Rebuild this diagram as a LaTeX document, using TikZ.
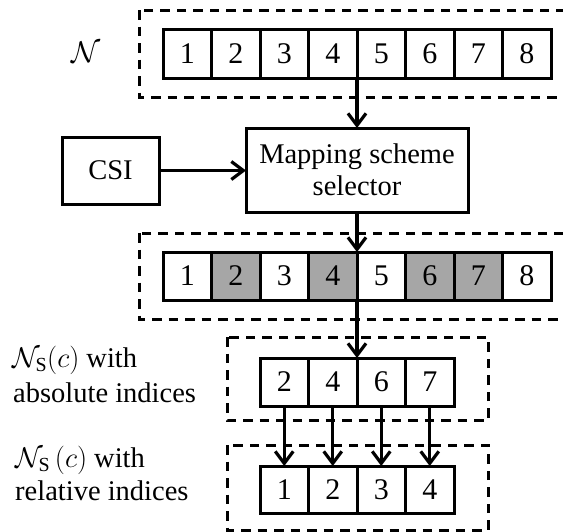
\RequirePackage{fix-cm}
\documentclass[tikz,border=0pt]{standalone}
\usepackage{fontspec}
\setmainfont{Liberation Serif}
\usetikzlibrary{arrows.meta}
\definecolor{selgray}{HTML}{A6A6A6}
\tikzset{
  cell/.style={draw, line width=3pt, minimum width=48.5pt, minimum height=49pt, inner sep=0pt, outer sep=0pt, font=\fontsize{30}{34}\selectfont},
  selcell/.style={cell, fill=selgray},
  blockbox/.style={draw, line width=3pt, inner sep=0pt, outer sep=0pt, align=center, font=\fontsize{28.5}{32}\selectfont},
  groupbox/.style={draw, line width=3pt, dash pattern=on 9.5pt off 7pt},
  conn/.style={line width=3.2pt, -{Straight Barb[length=12pt,width=18pt,line width=3.2pt]}},
  lbl/.style={anchor=base west, inner sep=0pt, font=\fontsize{28.5}{32}\selectfont},
}
\begin{document}
\begin{tikzpicture}[x=1pt,y=-1pt]
\useasboundingbox (0,0) rectangle (563,531);
\clip (0,0) rectangle (563,531);
% dashed group boxes
\draw[groupbox] (139,10) rectangle (620,97);
\draw[groupbox] (139,233) rectangle (620,319);
\draw[groupbox] (227,337) rectangle (488,420);
\draw[groupbox] (227,445) rectangle (488,530);
% top row
\foreach \i in {1,...,8}{
  \node[cell] (t\i) at ({187.25+48.5*(\i-1)},53.5) {\i};
}
\node[font=\fontsize{30}{32}\selectfont, inner sep=0pt] (nlabel) at (86,52) {$\mathcal{N}$};
% CSI and selector
\node[blockbox, minimum width=97pt, minimum height=67pt] (csi) at (110.5,170.5) {CSI};
\node[blockbox, minimum width=222pt, minimum height=84pt] (map) at (357,170) {Mapping scheme\\selector};
% second row
\foreach \i/\s in {1/cell,2/selcell,3/cell,4/selcell,5/cell,6/selcell,7/selcell,8/cell}{
  \node[\s, minimum height=48pt] (s\i) at ({187.25+48.5*(\i-1)},276) {\i};
}
% absolute indices
\foreach \v [count=\k] in {2,4,6,7}{
  \node[cell, minimum height=48pt] (a\k) at ({284.25+48.5*(\k-1)},382) {\v};
}
% relative indices
\foreach \k in {1,...,4}{
  \node[cell, minimum height=47pt] (r\k) at ({284.25+48.5*(\k-1)},489.5) {\k};
}
% labels
\node[lbl] (la1) at (12,367) {$\mathcal{N}_{\mathrm{S}}(c)$ with};
\node[lbl] (la2) at (13,402) {absolute indices};
\node[lbl] (lr1) at (15,467) {$\mathcal{N}_{\mathrm{S}}\,(c)$ with};
\node[lbl] (lr2) at (15,500) {relative indices};
% connectors
\draw[conn] (t4.south east) -- (map.north);
\draw[conn] (csi.east) -- (map.west |- csi.east);
\draw[conn] (map.south) -- (s4.north east);
\draw[conn] (s4.south east) -- (a2.north east);
\foreach \k in {1,...,4}{
  \draw[conn, shorten <=2pt] (a\k.south) -- (r\k.north);
}
\end{tikzpicture}
\end{document}
